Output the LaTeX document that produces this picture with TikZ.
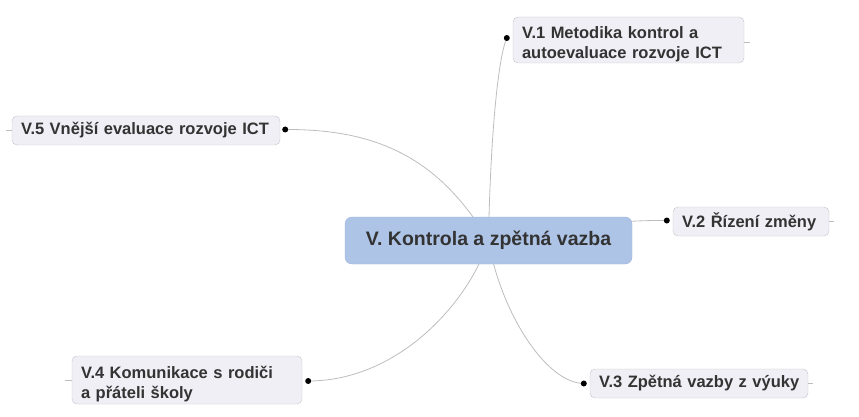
\documentclass[tikz,border=0pt]{standalone}
\usepackage{fontspec}
\setmainfont{Liberation Sans}
\usetikzlibrary{backgrounds}
\definecolor{mainfill}{HTML}{AEC4E7}
\definecolor{mainline}{HTML}{9DB3D8}
\definecolor{leaffill}{HTML}{EFEFF5}
\definecolor{leafline}{HTML}{C4C4CC}
\definecolor{textgray}{HTML}{333333}
\definecolor{branchgray}{HTML}{BDBDBD}
\newcommand{\firstline}{\rule{0pt}{21pt}}
\begin{document}
\begin{tikzpicture}
[x=1pt,y=-1pt,
 topic/.style={draw=mainline,fill=mainfill,rounded corners=7pt,inner sep=0pt,
   minimum width=287pt,minimum height=47pt,text=textgray,
   font=\fontsize{19.5}{22}\selectfont\bfseries},
 subtopic/.style={draw=leafline,fill=leaffill,rounded corners=5pt,inner xsep=9pt,
   inner ysep=0pt,align=left,text=textgray,
   font=\fontsize{16.5}{20}\selectfont\bfseries},
 branch/.style={draw=branchgray,line width=0.8pt},
 stub/.style={draw=branchgray,line width=0.8pt}]
  \useasboundingbox (0,0) rectangle (859,417);

  \node[topic] (main) at (488.5,240.5) {V. Kontrola a zpětná vazba};

  \node[subtopic,text width=213pt,minimum height=46pt] (v1) at (628.5,40) {\firstline V.1 Metodika kontrol a\\autoevaluace rozvoje ICT};
  \node[subtopic,text width=138pt,minimum height=29pt] (v2) at (751,221.5) {\mbox{V.2 Řízení změny}};
  \node[subtopic,text width=200pt,minimum height=29pt] (v3) at (699,383.5) {\mbox{V.3 Zpětná vazby z výuky}};
  \node[subtopic,text width=212pt,minimum height=48pt] (v4) at (187,380) {\firstline V.4 Komunikace s rodiči\\a přáteli školy};
  \node[subtopic,text width=250pt,minimum height=29pt] (v5) at (146,130.5) {\mbox{V.5 Vnější evaluace rozvoje ICT}};

  \coordinate (d1) at ([xshift=-6pt,yshift=2pt]v1.west);
  \coordinate (d2) at ([xshift=-6pt,yshift=1pt]v2.west);
  \coordinate (d3) at ([xshift=-6pt]v3.west);
  \coordinate (d4) at ([xshift=6pt,yshift=-1pt]v4.east);
  \coordinate (d5) at ([xshift=5pt,yshift=1pt]v5.east);

  \begin{scope}[on background layer]
    \draw[branch] (main.center) .. controls (490,150) and (497,60) .. (d1);
    \draw[branch] (main.center) .. controls (560,226) and (620,220) .. (d2);
    \draw[branch] (main.center) .. controls (500,310) and (545,383) .. (d3);
    \draw[branch] (main.center) .. controls (470,300) and (400,381) .. (d4);
    \draw[branch] (main.center) .. controls (440,160) and (380,129) .. (d5);
  \end{scope}

  \foreach \d in {d1,d2,d3,d4,d5}
    \fill (\d) circle (3pt);

  % short ends on the outer side
  \draw[stub] ([yshift=-2pt]v1.east) -- ++(6,0);
  \draw[stub] (v2.east) -- ++(5,0);
  \draw[stub] (v3.east) -- ++(5,0);
  \draw[stub] (v4.west) -- ++(-7,0);
  \draw[stub] (v5.west) -- ++(-6,0);
\end{tikzpicture}
\end{document}
